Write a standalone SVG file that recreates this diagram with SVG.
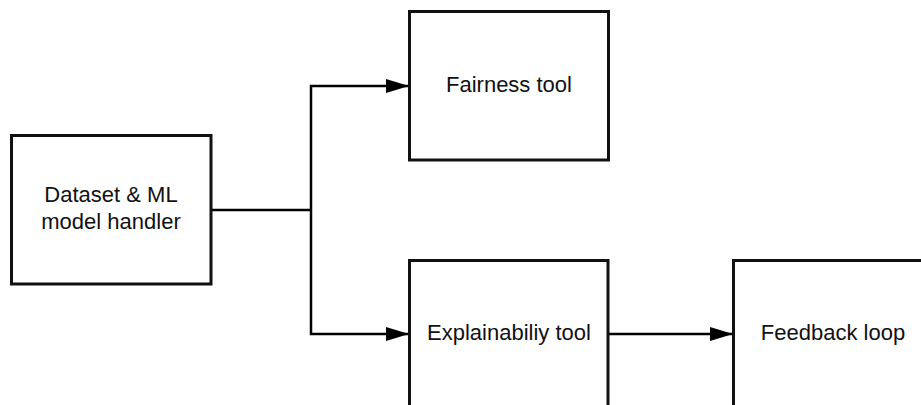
<svg xmlns="http://www.w3.org/2000/svg" width="921" height="405" viewBox="0 0 921 405">
  <defs>
    <marker id="arrow" markerWidth="23" markerHeight="14" refX="23" refY="7" orient="auto" markerUnits="userSpaceOnUse">
      <path d="M0,0 L23,7 L0,14 Z" fill="#000"/>
    </marker>
    <style>
      .box { fill: #fff; stroke: #111; stroke-width: 3; }
      .lbl { font-family: "Liberation Sans", Arial, sans-serif; font-size: 22px; fill: #111; text-anchor: middle; }
      .wire { fill: none; stroke: #000; stroke-width: 2.5; }
    </style>
  </defs>
  <rect width="921" height="405" fill="#fff"/>

  <g id="connectors">
    <path class="wire" d="M211,210 H311"/>
    <path class="wire" d="M311,210 V86 H409" marker-end="url(#arrow)"/>
    <path class="wire" d="M311,210 V334 H409" marker-end="url(#arrow)"/>
    <path class="wire" d="M608,334 H733" marker-end="url(#arrow)"/>
  </g>

  <g id="dataset-handler">
    <rect class="box" x="11.5" y="135.5" width="199.5" height="148.5"/>
    <text class="lbl" x="111" y="202">Dataset &amp; ML</text>
    <text class="lbl" x="111" y="229">model handler</text>
  </g>

  <g id="fairness-tool">
    <rect class="box" x="409.5" y="11.5" width="199" height="148.5"/>
    <text class="lbl" x="509" y="92">Fairness tool</text>
  </g>

  <g id="explainability-tool">
    <rect class="box" x="409.5" y="260.5" width="198.5" height="160"/>
    <text class="lbl" x="509" y="340">Explainabiliy tool</text>
  </g>

  <g id="feedback-loop">
    <rect class="box" x="733.5" y="260.5" width="200" height="160"/>
    <text class="lbl" x="833" y="340">Feedback loop</text>
  </g>
</svg>
